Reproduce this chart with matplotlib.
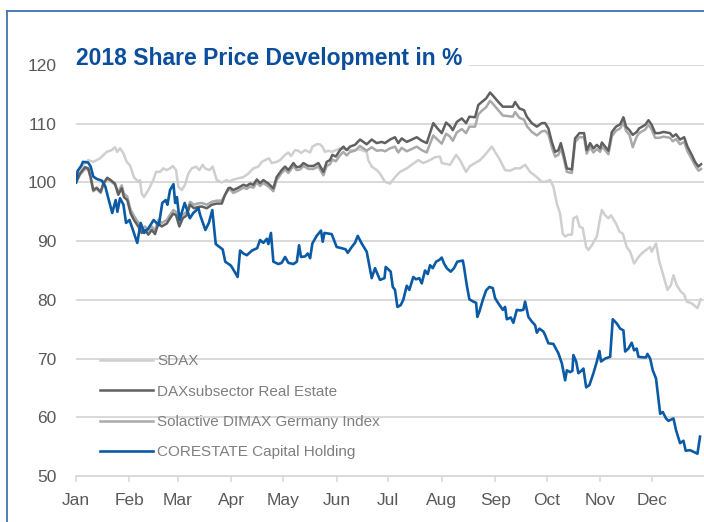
import matplotlib
matplotlib.use('Agg')
import matplotlib.pyplot as plt
from matplotlib.lines import Line2D

months = ['Jan', 'Feb', 'Mar', 'Apr', 'May', 'Jun', 'Jul', 'Aug', 'Sep', 'Oct', 'Nov', 'Dec']
month_start = [0, 31, 59, 90, 120, 151, 181, 212, 243, 273, 304, 334]

# day of year / indexed price (start = 100)
sdax_day = [0, 1.3, 4.2, 7.1, 10, 13.9, 17.8, 20.7, 22.6, 23.9, 25.5, 27.4, 29.4, 31.3, 33.6, 36.1, 37.1, 38.1,
            39.4, 41.9, 44.8, 46.4, 48.7, 50.6, 52.6, 54.5, 56.1, 58, 59.3, 61.3, 63.2, 65.1, 67.1, 69.6, 71.5,
            73.4, 74.8, 77.3, 79.2, 81.6, 84.5, 87.4, 89.3, 90.3, 94.1, 97, 99.9, 102.8, 105.7, 107.7, 109.6,
            111.9, 113.4, 116.3, 118.3, 121.2, 123.1, 124.6, 127, 128.9, 130.4, 132.8, 135.7, 137, 139.5, 141.4,
            142.8, 144.3, 146.3, 148.2, 153, 158.8, 164.6, 168.5, 169.4, 171.4, 174.3, 176.2, 179.1, 182, 184.9,
            187.8, 191.7, 194.6, 198.4, 201.3, 205.2, 208.1, 211, 212, 216.8, 220.3, 222.6, 226.1, 228.4, 231.3,
            234.2, 237.1, 241, 242.9, 245.8, 248.7, 251.6, 254.5, 257.4, 260.3, 263.2, 267.1, 270, 271.9, 274.8,
            276.7, 278.7, 280.6, 282.1, 283.5, 285.4, 287.4, 288.3, 290.3, 291.8, 293.7, 295.7, 297, 299, 301.9,
            303.4, 304.8, 306.7, 308.6, 310.1, 313, 315, 316.9, 319.2, 321.2, 323.5, 326, 327.9, 330.4, 332.8,
            333.7, 336.2, 338.1, 340.1, 342.8, 344.8, 346.3, 348.2, 350.6, 352.5, 354, 356.9, 360.2, 362.1]
sdax = [100, 101.8, 103.0, 103.8, 103.5, 104.1, 105.2, 105.5, 106.0, 105.2, 105.8, 105.0, 103.5, 102.9, 100.9,
        100.1, 100.4, 98.1, 97.5, 98.7, 100.4, 101.8, 101.8, 102.4, 102.1, 102.4, 102.8, 102.1, 99.3, 98.7, 99.6,
        101.5, 102.4, 102.7, 102.1, 103.0, 102.4, 102.1, 102.7, 100.4, 100.0, 100.4, 100.1, 100.4, 100.7, 100.9,
        101.5, 102.4, 102.7, 103.5, 103.8, 104.1, 103.3, 103.5, 103.8, 104.7, 105.1, 104.5, 105.5, 105.4, 105.0,
        105.5, 105.1, 106.1, 106.5, 106.5, 106.1, 105.2, 105.4, 105.2, 105.8, 105.5, 105.6, 105.2, 103.8, 102.7,
        102.1, 101.5, 100.1, 99.8, 100.9, 101.8, 102.4, 103.0, 103.8, 103.3, 103.8, 104.3, 104.4, 103.3, 103.0,
        104.7, 103.8, 101.8, 102.8, 103.3, 103.8, 104.7, 106.1, 105.2, 103.8, 102.1, 102.0, 102.4, 102.4, 103.0,
        101.8, 100.9, 100.1, 100.1, 100.4, 99.3, 96.4, 94.7, 91.3, 90.8, 91.1, 91.1, 93.9, 94.2, 92.5, 92.2, 89.0,
        88.5, 89.3, 90.8, 93.3, 95.3, 94.4, 93.9, 94.4, 93.0, 91.6, 91.3, 89.0, 88.2, 86.2, 87.3, 87.9, 88.5,
        89.0, 88.2, 89.6, 86.5, 84.5, 81.7, 82.5, 84.2, 82.5, 81.4, 80.9, 79.7, 79.4, 78.6, 80.1]

dax_day = [0, 2.3, 5.2, 7.1, 8.5, 10, 12, 14.3, 15.8, 18.1, 20.1, 22.6, 24.5, 26.5, 27.8, 29.7, 31.7, 33.6, 36.1,
           38.1, 40, 41.9, 43.9, 45.8, 47.7, 49.7, 52.6, 54.5, 56.4, 58, 59.9, 61.9, 64.2, 66.1, 68.4, 70.3, 72.9,
           75.8, 78.7, 81.6, 84.5, 86.4, 88.3, 89.3, 91.2, 94.1, 97, 98.9, 100.9, 102.8, 104.8, 106.7, 108.6,
           111.5, 114.4, 116.3, 119.2, 121.2, 123.1, 126, 127.9, 129.9, 131.8, 134.7, 137.6, 140.5, 143.4, 145.3,
           147.2, 148.6, 150.6, 153, 155, 156.9, 158.8, 161.7, 164.6, 166.6, 168.5, 171.4, 174.3, 177.2, 179.1,
           182, 184.9, 186.8, 188.8, 191.7, 194.6, 197.5, 200.4, 203.3, 205.2, 207.1, 209.5, 212, 214.5, 216.8,
           218.4, 220.7, 223.6, 226.1, 228, 231.3, 233.2, 235.2, 237.7, 240, 241.9, 244.8, 247.4, 250.6, 253.2,
           254.5, 257, 259.7, 261.3, 264.2, 267.1, 270, 271.9, 273.8, 275.8, 277.7, 279.6, 281, 282.5, 284.5,
           287.4, 289.3, 291.8, 294.5, 296, 298, 299.9, 301.9, 303.8, 304.8, 306.7, 308.6, 310.6, 313, 315.4,
           317.3, 318.8, 320.8, 322.7, 325, 326.4, 329.9, 331.8, 333.7, 335.7, 338.1, 340.5, 342.4, 344.3, 345.9,
           347.8, 350.1, 352.5, 354.4, 356.9, 358.8, 360.8, 362.3]
dax = [100, 101.5, 102.6, 102.4, 100.9, 98.7, 99.1, 98.4, 99.8, 100.8, 100.4, 99.8, 97.9, 99.0, 97.5, 97.0, 94.7,
       93.6, 92.5, 91.4, 91.9, 91.1, 91.9, 91.2, 93.0, 92.5, 93.0, 93.9, 94.7, 94.4, 92.5, 93.9, 94.4, 96.2, 95.6,
       95.8, 95.9, 95.6, 96.2, 96.4, 96.4, 97.9, 99.0, 99.1, 98.7, 99.1, 99.6, 99.4, 99.8, 99.6, 100.5, 99.9,
       100.4, 99.8, 99.0, 100.9, 102.1, 102.7, 102.1, 103.3, 102.6, 102.7, 103.3, 102.8, 102.8, 103.3, 101.8,
       103.5, 103.8, 104.7, 104.4, 105.5, 106.1, 105.5, 106.1, 106.4, 107.3, 106.9, 106.5, 107.3, 106.7, 106.9,
       106.7, 107.3, 107.7, 106.7, 107.5, 106.9, 107.3, 107.7, 107.1, 106.7, 108.4, 110.1, 109.2, 108.4, 110.2,
       109.6, 108.9, 110.3, 110.9, 110.1, 111.2, 111.1, 113.2, 113.7, 114.3, 115.3, 114.7, 113.7, 112.9, 112.9,
       112.9, 113.7, 112.6, 112.3, 111.2, 110.1, 109.5, 110.1, 110.1, 109.2, 106.9, 105.2, 105.5, 106.7, 105.0,
       102.4, 102.2, 107.5, 108.4, 108.4, 105.5, 106.7, 105.8, 106.4, 105.8, 106.8, 106.1, 105.4, 108.6, 109.5,
       109.9, 111.1, 109.5, 108.9, 108.1, 108.6, 109.2, 109.8, 110.6, 109.8, 108.4, 108.4, 108.6, 108.5, 108.4,
       107.8, 108.2, 107.3, 107.7, 106.1, 104.7, 103.5, 102.7, 103.1]

solactive_day = dax_day
solactive = [100, 101.3, 102.3, 102.2, 100.7, 98.5, 98.9, 98.2, 99.6, 100.6, 100.2, 99.6, 98.4, 99.5, 98.1, 97.6,
             95.3, 94.3, 93.2, 92.0, 92.5, 91.8, 92.5, 91.8, 93.6, 93.1, 93.6, 94.5, 95.3, 95.0, 93.2, 94.5, 95.0,
             96.7, 96.2, 96.4, 96.5, 96.2, 96.7, 96.9, 96.9, 97.9, 98.7, 98.8, 98.2, 98.6, 99.1, 98.9, 99.3, 99.1,
             100.0, 99.4, 99.9, 99.3, 98.5, 100.4, 101.6, 102.2, 101.6, 102.8, 102.1, 102.2, 102.8, 102.3, 102.3,
             102.7, 101.2, 102.8, 103.1, 103.9, 103.6, 104.6, 105.2, 104.6, 105.2, 105.4, 106.2, 105.8, 105.4,
             106.0, 105.4, 105.5, 105.3, 105.8, 106.1, 105.1, 105.9, 105.3, 105.7, 106.1, 105.5, 105.1, 106.6,
             108.0, 107.3, 106.6, 108.3, 107.8, 107.1, 108.5, 109.1, 108.4, 109.5, 109.5, 111.6, 112.2, 112.8,
             113.9, 113.3, 112.3, 111.4, 111.3, 111.2, 112.0, 111.0, 110.7, 109.6, 108.6, 108.0, 108.7, 108.8,
             108.2, 106.0, 104.4, 104.7, 105.9, 104.3, 101.8, 101.6, 106.9, 107.7, 107.7, 104.9, 106.0, 105.1,
             105.7, 105.2, 106.1, 105.5, 104.8, 107.9, 108.8, 109.2, 110.2, 108.8, 108.1, 106.0, 107.8, 108.4,
             109.0, 109.8, 109.0, 107.6, 107.6, 107.8, 107.7, 107.6, 107.0, 107.4, 106.5, 106.9, 105.3, 104.0,
             102.9, 102.0, 102.3]

core_day = [0, 1, 3, 4, 7, 8.5, 10, 12, 15, 17, 19, 21, 23, 24, 25.5, 27.5, 29, 31, 33, 35.5, 37.5, 39.5, 42, 45,
            48, 50, 52, 53, 54.5, 56.5, 57.5, 58.5, 60, 63, 66, 68, 71, 72, 75, 77, 79, 81, 85, 86.5, 89.5, 90.3,
            93.7, 95.1, 97, 99, 102, 105, 106.7, 108.6, 110.6, 111.5, 113, 114.4, 117.3, 119.2, 121.2, 123.1, 126,
            128, 129.3, 130.4, 132.8, 134.3, 135.7, 137, 139.5, 142, 143, 144, 146.3, 148.2, 151.1, 154, 156.3,
            157.5, 159.8, 161.7, 163.3, 165.6, 168.5, 171.4, 173.3, 176.2, 178.8, 179.5, 181, 182.4, 183.6, 184.9,
            186.3, 188.2, 189.7, 191.7, 193.2, 195.5, 197.1, 199, 200.4, 202.3, 203.9, 205.2, 206.8, 208.7, 210.6,
            212, 213.3, 214.9, 217.2, 219.1, 221, 224.2, 224.9, 226.5, 228, 230.3, 231.9, 232.6, 233.8, 235.8,
            237.7, 239.6, 241.6, 242.9, 244.8, 247.4, 248.7, 249.7, 252, 253.5, 255.5, 257.4, 259.3, 260.3, 262.2,
            264.2, 266.1, 267.1, 268.6, 270.9, 271.9, 273.8, 276.7, 279.6, 281.6, 283.5, 284.5, 286.4, 287.7,
            288.3, 289.9, 291.2, 293.2, 294.1, 295.7, 297.6, 299.9, 301.9, 303.4, 304.3, 306.7, 309.6, 311.1,
            313.4, 315.4, 317.3, 318.3, 320.2, 322.1, 323.5, 325, 326, 328.9, 330.4, 331.2, 332.8, 334.3, 336.2,
            338.6, 340.1, 342, 343.4, 346.3, 347.8, 350.1, 352.1, 353.4, 355.9, 360.2, 361.7]
core = [100.0, 102.0, 102.8, 103.5, 103.4, 102.7, 101.0, 100.6, 100.3, 99.3, 97.0, 94.8, 97.0, 95.0, 97.3, 96.2,
        93.1, 93.6, 91.9, 89.7, 93.1, 91.4, 92.2, 93.6, 92.7, 96.5, 97.0, 96.2, 98.7, 99.7, 96.5, 97.5, 93.6, 96.5,
        93.9, 94.8, 95.6, 94.4, 91.9, 93.1, 95.3, 89.5, 88.6, 86.5, 85.9, 85.6, 83.9, 88.4, 87.9, 87.6, 88.4, 88.8,
        90.2, 89.7, 90.4, 89.5, 91.4, 86.5, 86.1, 86.3, 87.3, 86.3, 86.1, 86.5, 89.3, 87.3, 87.4, 87.9, 87.1, 89.6,
        90.9, 91.8, 89.9, 91.4, 91.3, 91.2, 89.0, 88.8, 88.6, 88.0, 89.0, 89.7, 90.9, 89.6, 88.2, 83.7, 85.4, 83.4,
        83.7, 85.6, 85.2, 84.8, 82.2, 81.7, 78.8, 79.1, 80.0, 82.4, 81.7, 83.9, 83.5, 83.7, 82.8, 85.0, 84.4, 85.9,
        85.4, 86.5, 86.8, 87.2, 86.2, 85.4, 84.8, 85.4, 86.5, 86.7, 85.6, 82.5, 80.1, 79.7, 79.5, 77.1, 78.0, 80.0,
        81.6, 82.2, 82.0, 80.3, 79.4, 78.3, 78.8, 76.7, 77.0, 76.1, 78.3, 78.2, 78.3, 79.7, 77.1, 76.3, 75.7, 74.4,
        75.1, 74.6, 74.0, 72.6, 72.5, 70.9, 69.2, 66.3, 68.0, 67.7, 67.9, 70.6, 69.5, 67.5, 68.0, 68.3, 65.1, 65.5,
        67.5, 69.5, 71.3, 69.5, 70.0, 70.3, 76.7, 76.0, 75.1, 74.8, 71.2, 71.7, 72.7, 71.4, 71.7, 70.3, 70.2, 70.2,
        70.8, 70.0, 68.0, 66.6, 60.6, 60.9, 59.8, 59.4, 59.8, 57.8, 55.6, 56.0, 54.3, 54.4, 53.8, 56.7]

c_sdax = '#cfcfcf'
c_dax = '#606060'
c_sol = '#a9a9a9'
c_core = '#0a5aa5'
c_title = '#0b4f9c'
c_grid = '#d9d9d9'
c_text = '#595959'

plt.rcParams['font.family'] = ['Liberation Sans Narrow', 'Liberation Sans', 'DejaVu Sans']

fig = plt.figure(figsize=(7.04, 5.22), dpi=100)
ax = fig.add_axes([76 / 704, 46 / 522, 628 / 704, 411 / 522])

ax.plot(sdax_day, sdax, color=c_sdax, lw=1.8, label='SDAX')
ax.plot(solactive_day, solactive, color=c_sol, lw=1.8, label='Solactive DIMAX Germany Index')
ax.plot(dax_day, dax, color=c_dax, lw=1.8, label='DAXsubsector Real Estate')
ax.plot(core_day, core, color=c_core, lw=1.9, label='CORESTATE Capital Holding')

ax.set_xlim(0, 364)
ax.set_ylim(50, 120)
ax.set_yticks(range(50, 121, 10))
ax.grid(axis='y', color=c_grid, lw=1.4)
ax.set_axisbelow(True)
for s in ['top', 'right', 'left']:
    ax.spines[s].set_visible(False)
ax.spines['bottom'].set_color(c_grid)
ax.spines['bottom'].set_linewidth(1.4)

ax.set_xticks(month_start)
ax.set_xticklabels(months)
ax.tick_params(axis='x', length=4, width=1.2, color=c_grid, pad=8, labelsize=12.5, labelcolor=c_text)
ax.tick_params(axis='y', length=0, pad=14, labelsize=12.5, labelcolor=c_text)

ax.text(0, 120, '2018 Share Price Development in %', color=c_title, fontsize=16.5, fontweight='bold',
        family=['Liberation Sans', 'DejaVu Sans'], va='baseline', ha='left', zorder=5,
        bbox=dict(facecolor='white', edgecolor='none', pad=5))

h = {l.get_label(): l for l in ax.get_lines()}
order = ['SDAX', 'DAXsubsector Real Estate', 'Solactive DIMAX Germany Index', 'CORESTATE Capital Holding']
leg = ax.legend([h[k] for k in order], order, loc='upper left', bbox_to_anchor=(0.038, 0.296),
                frameon=False, handlelength=3.45, handletextpad=0.3, labelspacing=1.07,
                borderpad=0, borderaxespad=0, prop={'family': ['Liberation Sans', 'DejaVu Sans'], 'size': 11})
for t in leg.get_texts():
    t.set_color('#7f7f7f')

# outer frame
fig.add_artist(Line2D([7 / 704, 1], [1 - 11 / 522, 1 - 11 / 522], color='#3d73b5', lw=1.3))
fig.add_artist(Line2D([7 / 704, 7 / 704], [0, 1 - 11 / 522], color='#3d73b5', lw=1.3))

fig.savefig('out.png', dpi=100)
